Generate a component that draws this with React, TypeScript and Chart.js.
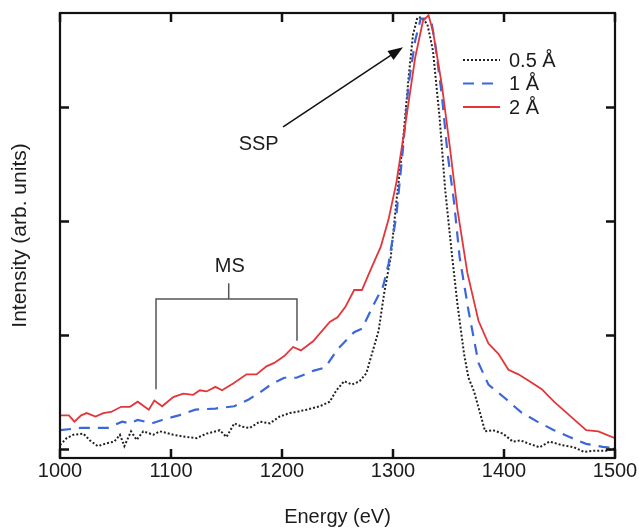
import { useEffect, useRef } from "react";
import { Chart, registerables } from "chart.js";

Chart.register(...registerables);

// ---- data ----
const energy05 = [1000, 1006, 1012, 1021, 1027, 1034, 1042, 1049, 1054, 1058, 1064, 1069, 1075, 1084, 1090, 1102, 1114, 1123, 1132, 1144, 1150, 1157, 1164, 1171, 1180, 1189, 1198, 1207, 1213, 1222, 1234, 1243, 1249, 1256, 1263, 1270, 1276, 1281, 1287, 1292, 1298, 1303, 1309, 1314, 1318, 1322, 1326, 1331, 1336, 1342, 1347, 1353, 1358, 1364, 1368, 1373, 1379, 1383, 1390, 1399, 1408, 1415, 1423, 1432, 1441, 1452, 1463, 1472, 1481, 1492, 1500];
const intensity05 = [0.04, 0.10, 0.13, 0.14, 0.08, 0.03, 0.055, 0.07, 0.13, 0.03, 0.16, 0.085, 0.16, 0.13, 0.16, 0.13, 0.11, 0.10, 0.14, 0.17, 0.11, 0.23, 0.20, 0.19, 0.245, 0.23, 0.29, 0.32, 0.33, 0.35, 0.38, 0.42, 0.52, 0.60, 0.57, 0.60, 0.67, 0.84, 1.04, 1.37, 1.69, 2.17, 2.70, 3.26, 3.64, 3.79, 3.79, 3.73, 3.50, 2.91, 2.28, 1.72, 1.28, 0.84, 0.63, 0.51, 0.30, 0.16, 0.17, 0.14, 0.07, 0.08, 0.05, 0.02, 0.07, 0.04, 0.02, -0.02, -0.01, -0.01, 0.01];

const energy1 = [1000, 1019, 1043, 1056, 1063, 1070, 1083, 1092, 1107, 1122, 1140, 1157, 1170, 1180, 1190, 1202, 1213, 1228, 1239, 1250, 1265, 1272, 1283, 1291, 1296, 1303, 1309, 1314, 1320, 1325, 1329, 1335, 1338, 1344, 1349, 1355, 1360, 1368, 1377, 1386, 1401, 1415, 1430, 1445, 1459, 1474, 1489, 1500];
const intensity1 = [0.17, 0.19, 0.19, 0.245, 0.23, 0.26, 0.23, 0.26, 0.30, 0.35, 0.36, 0.38, 0.44, 0.50, 0.57, 0.63, 0.63, 0.69, 0.72, 0.88, 1.03, 1.06, 1.28, 1.43, 1.63, 2.05, 2.64, 3.20, 3.59, 3.78, 3.78, 3.73, 3.56, 3.11, 2.61, 2.17, 1.69, 1.22, 0.76, 0.57, 0.45, 0.33, 0.245, 0.17, 0.11, 0.05, 0.024, 0.01];

const energy2 = [1000, 1008, 1013, 1019, 1024, 1032, 1039, 1046, 1055, 1063, 1070, 1080, 1085, 1092, 1102, 1111, 1120, 1126, 1132, 1140, 1146, 1156, 1168, 1177, 1186, 1193, 1202, 1210, 1217, 1228, 1243, 1250, 1257, 1265, 1272, 1280, 1289, 1296, 1303, 1312, 1320, 1327, 1332, 1336, 1344, 1351, 1358, 1367, 1377, 1386, 1395, 1404, 1413, 1423, 1434, 1445, 1459, 1474, 1485, 1500];
const intensity2 = [0.30, 0.30, 0.245, 0.30, 0.32, 0.29, 0.32, 0.33, 0.375, 0.375, 0.42, 0.35, 0.43, 0.38, 0.46, 0.49, 0.48, 0.52, 0.51, 0.55, 0.52, 0.58, 0.66, 0.66, 0.73, 0.76, 0.82, 0.90, 0.87, 0.95, 1.12, 1.16, 1.25, 1.40, 1.40, 1.58, 1.78, 2.02, 2.34, 2.91, 3.44, 3.76, 3.81, 3.67, 3.20, 2.67, 2.11, 1.55, 1.13, 0.93, 0.84, 0.70, 0.66, 0.60, 0.53, 0.42, 0.30, 0.17, 0.16, 0.10];

const xTicks = [1000, 1100, 1200, 1300, 1400, 1500];
const yTicks = [0, 1, 2, 3];
const seriesLabels = ["0.5 Å", "1 Å", "2 Å"];

// annotation anchors in data units
const sspArrowFrom = { x: 1201, y: 2.83 };
const sspArrowTo = { x: 1309, y: 3.53 };
const sspLabel = { x: 1179, y: 2.68, text: "SSP" };
const msLabel = { x: 1153, y: 1.61, text: "MS" };
const msBracket = { stemX: 1152, stemTop: 1.46, barY: 1.32, leftX: 1086.5, rightX: 1213.5, leftBottom: 0.53, rightBottom: 0.955 };

const FONT = "'Liberation Sans', Arial, Helvetica, sans-serif";
const TEXT = "#1c1c1c";

const pairs = (xs: number[], ys: number[]) => xs.map((x, i) => ({ x, y: ys[i] }));

const overlayPlugin = {
  id: "overlay",
  afterDraw(chart: any) {
    const { ctx, chartArea: a } = chart;
    const xs = chart.scales.x;
    const ys = chart.scales.y;
    ctx.save();
    // frame
    ctx.strokeStyle = "#111";
    ctx.lineWidth = 2.2;
    ctx.strokeRect(a.left, a.top, a.right - a.left, a.bottom - a.top);
    // inward ticks
    const tl = 9;
    ctx.lineWidth = 2.5;
    ctx.beginPath();
    xTicks.forEach((v) => {
      const px = xs.getPixelForValue(v);
      ctx.moveTo(px, a.bottom);
      ctx.lineTo(px, a.bottom - tl);
      ctx.moveTo(px, a.top);
      ctx.lineTo(px, a.top + tl);
    });
    yTicks.forEach((v) => {
      const py = ys.getPixelForValue(v);
      ctx.moveTo(a.left, py);
      ctx.lineTo(a.left + tl, py);
      ctx.moveTo(a.right, py);
      ctx.lineTo(a.right - tl, py);
    });
    ctx.stroke();

    // legend
    const lx0 = 463, lx1 = 500, ly0 = 60, ldy = 23.5;
    ctx.font = `20px ${FONT}`;
    ctx.textBaseline = "middle";
    ctx.textAlign = "left";
    chart.data.datasets.forEach((ds: any, i: number) => {
      const y = ly0 + i * ldy;
      ctx.save();
      ctx.strokeStyle = ds.borderColor;
      ctx.lineWidth = ds.borderWidth;
      ctx.setLineDash(ds.borderDash || []);
      ctx.beginPath();
      ctx.moveTo(lx0, y);
      ctx.lineTo(lx1, y);
      ctx.stroke();
      ctx.restore();
      ctx.fillStyle = TEXT;
      ctx.fillText(seriesLabels[i], 509, y + 1);
    });

    // SSP arrow
    const fx = xs.getPixelForValue(sspArrowFrom.x), fy = ys.getPixelForValue(sspArrowFrom.y);
    const tx = xs.getPixelForValue(sspArrowTo.x), ty = ys.getPixelForValue(sspArrowTo.y);
    const ang = Math.atan2(ty - fy, tx - fx);
    const ah = 15, aw = 5.5;
    ctx.strokeStyle = "#111";
    ctx.fillStyle = "#111";
    ctx.lineWidth = 1.5;
    ctx.beginPath();
    ctx.moveTo(fx, fy);
    ctx.lineTo(tx - Math.cos(ang) * ah * 0.8, ty - Math.sin(ang) * ah * 0.8);
    ctx.stroke();
    ctx.beginPath();
    ctx.moveTo(tx, ty);
    ctx.lineTo(tx - Math.cos(ang) * ah - Math.sin(ang) * aw, ty - Math.sin(ang) * ah + Math.cos(ang) * aw);
    ctx.lineTo(tx - Math.cos(ang) * ah + Math.sin(ang) * aw, ty - Math.sin(ang) * ah - Math.cos(ang) * aw);
    ctx.closePath();
    ctx.fill();

    ctx.fillStyle = TEXT;
    ctx.textAlign = "center";
    ctx.font = `20px ${FONT}`;
    ctx.fillText(sspLabel.text, xs.getPixelForValue(sspLabel.x), ys.getPixelForValue(sspLabel.y));
    ctx.fillText(msLabel.text, xs.getPixelForValue(msLabel.x), ys.getPixelForValue(msLabel.y));

    // MS bracket
    ctx.strokeStyle = "#555";
    ctx.lineWidth = 1.5;
    const sx = xs.getPixelForValue(msBracket.stemX);
    const by = ys.getPixelForValue(msBracket.barY);
    const lxp = xs.getPixelForValue(msBracket.leftX);
    const rxp = xs.getPixelForValue(msBracket.rightX);
    ctx.beginPath();
    ctx.moveTo(sx, ys.getPixelForValue(msBracket.stemTop));
    ctx.lineTo(sx, by);
    ctx.moveTo(lxp, ys.getPixelForValue(msBracket.leftBottom));
    ctx.lineTo(lxp, by);
    ctx.lineTo(rxp, by);
    ctx.lineTo(rxp, ys.getPixelForValue(msBracket.rightBottom));
    ctx.stroke();
    ctx.restore();
  },
};

export default function App() {
  const ref = useRef<HTMLCanvasElement | null>(null);
  useEffect(() => {
    if (!ref.current) return;
    const chart = new Chart(ref.current, {
      type: "line",
      data: {
        datasets: [
          {
            label: seriesLabels[0],
            data: pairs(energy05, intensity05),
            borderColor: "#222222",
            borderWidth: 2,
            borderDash: [2, 2],
            pointRadius: 0,
            tension: 0,
            order: 2,
          },
          {
            label: seriesLabels[1],
            data: pairs(energy1, intensity1),
            borderColor: "#3b68d9",
            borderWidth: 2.2,
            borderDash: [11, 8],
            pointRadius: 0,
            tension: 0,
            order: 1,
          },
          {
            label: seriesLabels[2],
            data: pairs(energy2, intensity2),
            borderColor: "#e3353a",
            borderWidth: 1.8,
            pointRadius: 0,
            tension: 0,
            order: 0,
          },
        ],
      },
      options: {
        animation: false,
        responsive: true,
        maintainAspectRatio: false,
        layout: { padding: { left: 0, right: 24, top: 13, bottom: 0 } },
        plugins: { legend: { display: false }, tooltip: { enabled: false } },
        scales: {
          x: {
            type: "linear",
            min: 1000,
            max: 1500,
            afterBuildTicks: (s: any) => {
              s.ticks = xTicks.map((v) => ({ value: v }));
            },
            afterFit: (s: any) => {
              s.height = 71;
            },
            ticks: { font: { family: FONT, size: 20 }, color: TEXT, padding: 1, maxRotation: 0, callback: (v: any) => String(v) },
            grid: { display: false, drawTicks: false },
            border: { display: false },
            title: { display: true, text: "Energy (eV)", font: { family: FONT, size: 20 }, color: TEXT, padding: { top: 18, bottom: 0 } },
          },
          y: {
            type: "linear",
            min: -0.074,
            max: 3.83,
            afterFit: (s: any) => {
              s.width = 60;
            },
            ticks: { display: false },
            grid: { display: false, drawTicks: false },
            border: { display: false },
            title: { display: true, text: "Intensity (arb. units)", font: { family: FONT, size: 21 }, color: TEXT, padding: { top: 8, bottom: 27 } },
          },
        },
      },
      plugins: [overlayPlugin],
    } as any);
    return () => chart.destroy();
  }, []);
  return (
    <div style={{ position: "fixed", left: 0, top: 0, width: 639, height: 529, background: "#fff" }}>
      <canvas ref={ref} />
    </div>
  );
}
